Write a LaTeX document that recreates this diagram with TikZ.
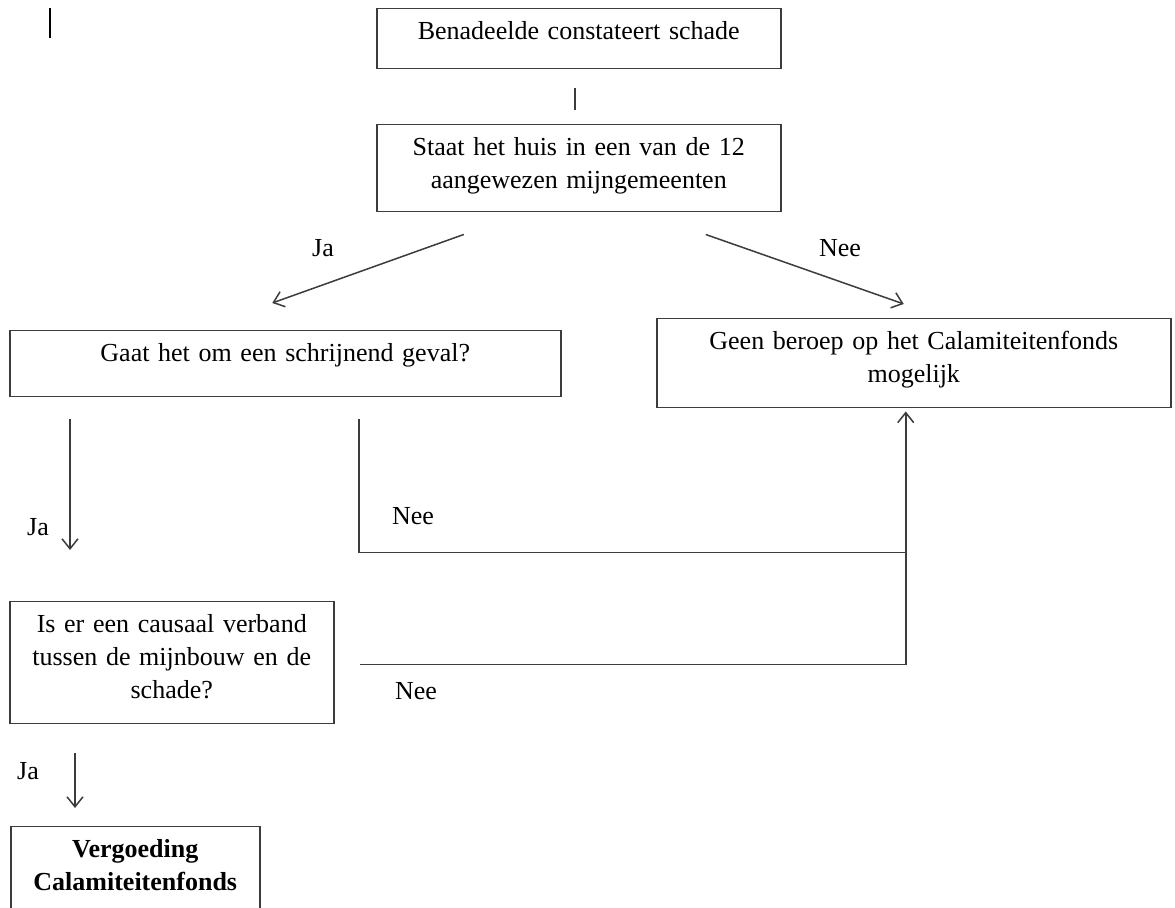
\documentclass[tikz,border=0pt]{standalone}
\definecolor{lijnkleur}{RGB}{60, 60, 60}
\usepackage{fontspec}
\setmainfont{Liberation Serif}
\usepackage{tikz}
\usetikzlibrary{arrows.meta, calc}

\begin{document}
\begin{tikzpicture}[x=0.5pt, y=-0.5pt,
    blok/.style={draw=lijnkleur, line width=0.75pt, inner sep=0pt, align=center, anchor=north west, text height=15.5pt, font=\fontsize{13}{16.5}\selectfont},
    lijn/.style={draw=lijnkleur, line width=0.75pt},
    pijl/.style={lijn, -{Straight Barb[length=5pt, width=8pt]}},
    tekst/.style={font=\fontsize{13}{16.5}\selectfont}]
  \useasboundingbox (0,0) rectangle (1175,908);

  % cursor
  \draw[line width=1pt] (49.5,8) -- (49.5,38);

  % Blokken
  \node[blok, text width=202pt, text depth=14.5pt] (b1) at (376,8) {Benadeelde constateert schade};
  \node[blok, text width=202pt, text depth=28pt] (b2) at (376,124) {Staat het huis in een van de 12\\aangewezen mijngemeenten};
  \node[blok, text width=275.5pt, text depth=17.5pt] (b3) at (9,330) {Gaat het om een schrijnend geval?};
  \node[blok, text width=257pt, text depth=29pt] (b4) at (656,318) {Geen beroep op het Calamiteitenfonds\\mogelijk};
  \node[blok, text width=162pt, text depth=45.5pt] (b5) at (9,601) {Is er een causaal verband\\tussen de mijnbouw en de\\schade?};
  \node[blok, text width=124.5pt, text depth=34pt] (b6) at (10,826) {\textbf{Vergoeding}\\\textbf{Calamiteitenfonds}};

  % Verbindingen
  \draw[lijn] ($(b1.south)+(-4,19)$) -- ($(b2.north)+(-4,-14)$);
  \draw[pijl] ($(b2.south)+(-115,22)$) -- ($(b3.north)+(-13,-27)$);
  \draw[pijl] ($(b2.south)+(127,22)$) -- ($(b4.north)+(-10,-14)$);
  \draw[pijl] ($(b3.south west)+(61,22)$) -- ($(b5.north west)+(61,-51)$);
  \coordinate (kruis) at ($(b4.south)+(-8,144)$);
  \draw[lijn] ($(b3.south)+(73.5,22)$) |- (kruis);
  \draw[pijl] ($(b5.east)+(25,2)$) -| ($(b4.south)+(-8,3)$);
  \draw[pijl] ($(b5.south west)+(66,29)$) -- ($(b6.north west)+(65,-18)$);

  % Labels
  \node[tekst] (ja1) at (323,248) {Ja};
  \node[tekst] (nee1) at (840,248) {Nee};
  \node[tekst] (ja2) at (38,527) {Ja};
  \node[tekst] (nee2) at (413,516) {Nee};
  \node[tekst] (nee3) at (416,691) {Nee};
  \node[tekst] (ja3) at (28,771) {Ja};
\end{tikzpicture}
\end{document}
